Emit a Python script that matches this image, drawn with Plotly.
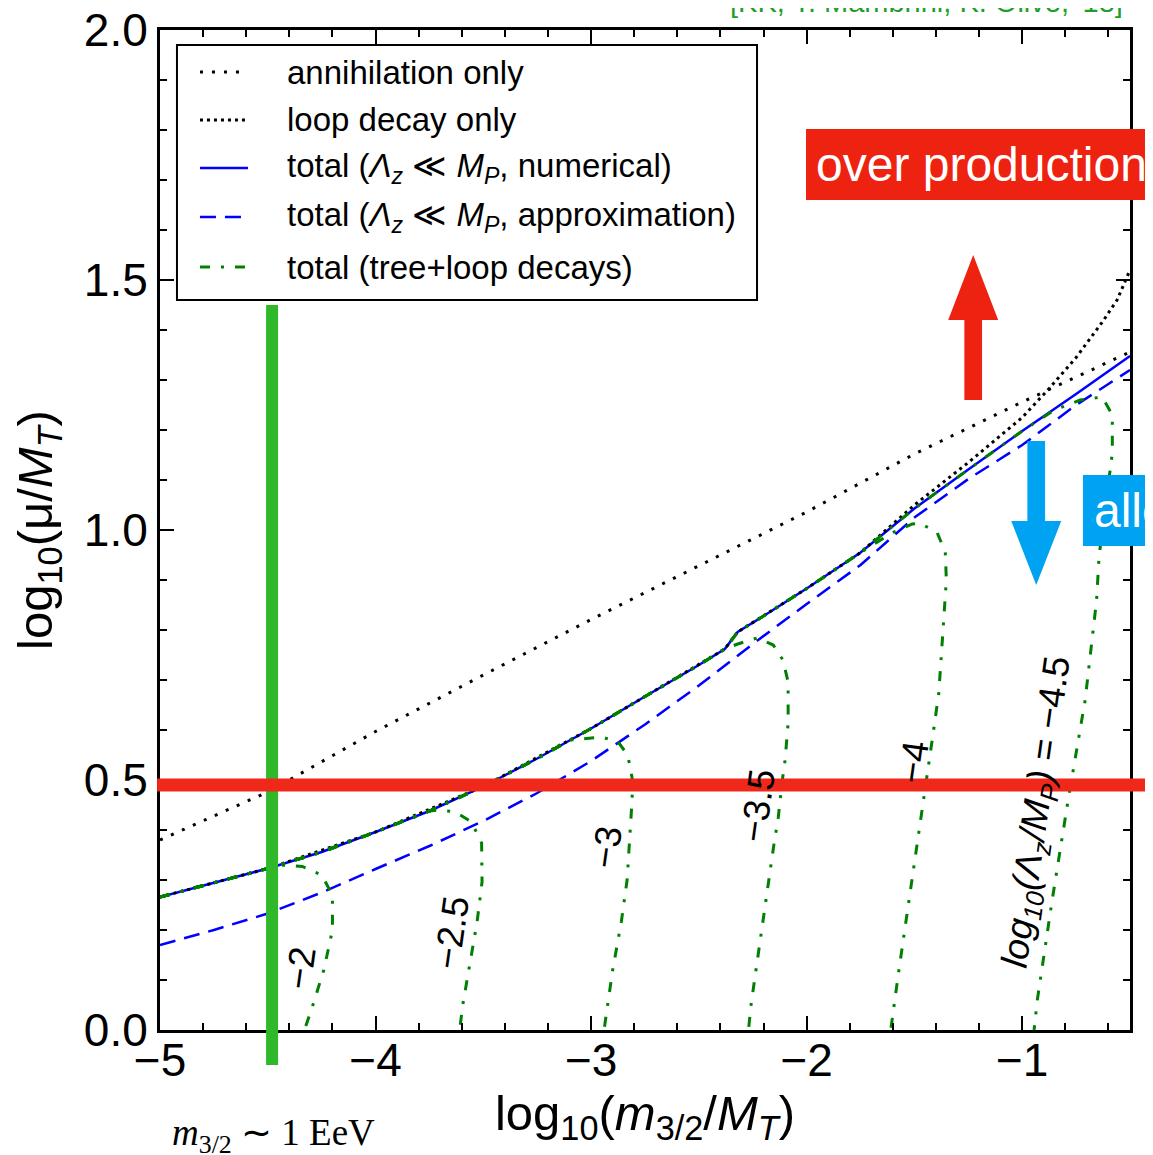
import plotly.graph_objects as go

# ---------------- data ----------------
x_total = [-5.0, -4.75, -4.5, -4.25, -4.0, -3.75, -3.5, -3.25, -3.0, -2.75, -2.5, -2.38, -2.32,
           -2.2, -2.0, -1.75, -1.5, -1.25, -1.0, -0.75, -0.5]
y_total = [0.266, 0.295, 0.323, 0.356, 0.396, 0.438, 0.487, 0.543, 0.603, 0.667, 0.730, 0.762, 0.796,
           0.828, 0.883, 0.955, 1.043, 1.121, 1.198, 1.272, 1.348]

x_approx = [-5.0, -4.75, -4.5, -4.25, -4.0, -3.75, -3.5, -3.25, -3.0, -2.75, -2.5, -2.25, -2.0,
            -1.75, -1.5, -1.25, -1.0, -0.75, -0.5]
y_approx = [0.170, 0.200, 0.233, 0.275, 0.322, 0.368, 0.418, 0.474, 0.538, 0.611, 0.689, 0.772, 0.852,
            0.930, 1.025, 1.102, 1.170, 1.250, 1.320]

x_ann = [-5.0, -4.5, -4.0, -3.5, -3.0, -2.5, -2.0, -1.5, -1.0, -0.5]
y_ann = [0.380, 0.476, 0.597, 0.710, 0.821, 0.928, 1.036, 1.152, 1.256, 1.356]

x_loop = [-5.0, -4.5, -4.0, -3.5, -3.0, -2.5, -2.38, -2.32, -2.0, -1.75, -1.5, -1.25, -1.0,
          -0.875, -0.75, -0.625, -0.56, -0.5]
y_loop = [0.266, 0.323, 0.396, 0.487, 0.603, 0.730, 0.762, 0.796, 0.883, 0.955, 1.050, 1.135, 1.225,
          1.283, 1.345, 1.418, 1.460, 1.520]

# tree+loop decay curves: label, last x on the common branch, departing tail
green_labels = ["−2", "−2.5", "−3", "−3.5", "−4", "−4.5"]
green_split = [-4.5, -3.75, -3.25, -2.38, -1.75, -1.0]
green_tail_x = [
    [-4.42, -4.34, -4.25, -4.20, -4.20, -4.24, -4.295, -4.33],
    [-3.70, -3.63, -3.555, -3.508, -3.506, -3.529, -3.561, -3.594, -3.61],
    [-3.10, -2.95, -2.875, -2.83, -2.808, -2.81, -2.833, -2.86, -2.90, -2.94],
    [-2.32, -2.23, -2.155, -2.11, -2.086, -2.086, -2.10, -2.114, -2.132, -2.151, -2.178, -2.206,
     -2.23, -2.257, -2.27],
    [-1.60, -1.51, -1.473, -1.394, -1.357, -1.352, -1.362, -1.387, -1.413, -1.44, -1.468, -1.494,
     -1.52, -1.547, -1.574, -1.61],
    [-0.85, -0.731, -0.629, -0.582, -0.582, -0.596, -0.643, -0.655, -0.708, -0.787, -0.861, -0.93, -0.945],
]
green_tail_y = [
    [0.330, 0.327, 0.310, 0.270, 0.200, 0.120, 0.044, 0.0],
    [0.440, 0.436, 0.416, 0.374, 0.296, 0.216, 0.136, 0.054, 0.0],
    [0.580, 0.586, 0.576, 0.550, 0.500, 0.460, 0.300, 0.216, 0.120, 0.0],
    [0.772, 0.784, 0.770, 0.740, 0.696, 0.614, 0.540, 0.496, 0.424, 0.374, 0.294, 0.214,
     0.134, 0.054, 0.0],
    [0.995, 1.012, 1.014, 0.994, 0.956, 0.900, 0.834, 0.674, 0.594, 0.514, 0.434, 0.354,
     0.274, 0.194, 0.114, 0.0],
    [1.240, 1.260, 1.266, 1.230, 1.154, 1.106, 0.950, 0.860, 0.660, 0.460, 0.260, 0.060, 0.0],
]
# label positions (data coords)
label_x = [-4.35, -3.65, -2.93, -2.23, -1.506, -0.926]
label_y = [0.124, 0.194, 0.366, 0.448, 0.536, 0.436]

x_ticks = [-5, -4, -3, -2, -1]
y_ticks = [0.0, 0.5, 1.0, 1.5, 2.0]

legend_names = [
    "annihilation only",
    "loop decay only",
    "total (<i>Λ<sub>z</sub></i> ≪ <i>M<sub>P</sub></i>, numerical)",
    "total (<i>Λ<sub>z</sub></i> ≪ <i>M<sub>P</sub></i>, approximation)",
    "total (tree+loop decays)",
]

# ---------------- styles ----------------
FONT = "Liberation Sans, Arial, Helvetica, sans-serif"
BLUE = "#0000ff"
GREEN = "#008000"
RED = "#ee2211"
LBLUE = "#00a2f2"
styles = [
    dict(color="black", width=3, dash="3px,9px"),
    dict(color="black", width=3, dash="3px,4px"),
    dict(color=BLUE, width=2.5, dash="solid"),
    dict(color=BLUE, width=2.5, dash="16px,9px"),
    dict(color=GREEN, width=3, dash="10px,11px,3px,11px"),
]

fig = go.Figure()

fig.add_trace(go.Scatter(x=x_total, y=y_total, mode="lines", name=legend_names[2], line=styles[2]))
fig.add_trace(go.Scatter(x=x_approx, y=y_approx, mode="lines", name=legend_names[3], line=styles[3]))
fig.add_trace(go.Scatter(x=x_ann, y=y_ann, mode="lines", name=legend_names[0], line=styles[0]))
fig.add_trace(go.Scatter(x=x_loop, y=y_loop, mode="lines", name=legend_names[1], line=styles[1]))

for i in range(len(green_labels)):
    gx = [x for x in x_total if x <= green_split[i]] + green_tail_x[i]
    gy = [y for x, y in zip(x_total, y_total) if x <= green_split[i]] + green_tail_y[i]
    fig.add_trace(go.Scatter(x=gx, y=gy, mode="lines", name=legend_names[4], line=styles[4]))

# rotated curve labels
for i, lab in enumerate(green_labels):
    txt = lab if i < len(green_labels) - 1 else \
        "<i>log<sub>10</sub>(Λ<sub>z</sub>/M<sub>P</sub>)</i> = " + lab
    fig.add_annotation(x=label_x[i], y=label_y[i], xref="x", yref="y", text=txt,
                       showarrow=False, textangle=-82,
                       font=dict(family=FONT, size=37, color="black"))

# highlighter strokes
fig.add_shape(type="line", xref="x", yref="paper", x0=-4.48, x1=-4.48, y0=-0.035, y1=0.725,
              line=dict(color="#2eb82a", width=12), layer="above")
fig.add_shape(type="line", xref="paper", yref="y", x0=-0.003, x1=1.03, y0=0.49, y1=0.49,
              line=dict(color="#f0281a", width=13), layer="above")

# arrows
cx, hw, sw = -1.2274, 0.116, 0.041
fig.add_shape(type="path", xref="x", yref="y", fillcolor=RED, line=dict(width=0),
              path=f"M{cx-sw},1.26 L{cx+sw},1.26 L{cx+sw},1.42 L{cx+hw},1.42 L{cx},1.55 "
                   f"L{cx-hw},1.42 L{cx-sw},1.42 Z")
cx2 = -0.935
fig.add_shape(type="path", xref="x", yref="y", fillcolor=LBLUE, line=dict(width=0),
              path=f"M{cx2-sw},1.178 L{cx2+sw},1.178 L{cx2+sw},1.018 L{cx2+hw},1.018 L{cx2},0.89 "
                   f"L{cx2-hw},1.018 L{cx2-sw},1.018 Z")

# boxes with text
fig.add_shape(type="rect", xref="paper", yref="paper", x0=0.666, x1=1.04, y0=0.830, y1=0.901,
              fillcolor=RED, line=dict(width=0), layer="above")
fig.add_annotation(xref="paper", yref="paper", x=0.674, y=0.866, xanchor="left", yanchor="middle",
                   text="over production", showarrow=False,
                   font=dict(family=FONT, size=48, color="white"))
fig.add_shape(type="rect", xref="paper", yref="paper", x0=0.9515, x1=1.04, y0=0.484, y1=0.555,
              fillcolor=LBLUE, line=dict(width=0), layer="above")
fig.add_annotation(xref="paper", yref="paper", x=0.9605, y=0.52, xanchor="left", yanchor="middle",
                   text="allowed", showarrow=False,
                   font=dict(family=FONT, size=48, color="white"))

# legend (drawn by hand to match the reference layout)
fig.add_shape(type="rect", xref="paper", yref="paper", x0=0.0175, x1=0.6155, y0=0.730, y1=0.985,
              fillcolor="white", line=dict(color="black", width=2), layer="above")
leg_y = [0.958, 0.910, 0.862, 0.813, 0.763]
for i, name in enumerate(legend_names):
    fig.add_shape(type="line", xref="paper", yref="paper", x0=0.0412, x1=0.0907,
                  y0=leg_y[i], y1=leg_y[i], line=styles[i], layer="above")
    fig.add_annotation(xref="paper", yref="paper", x=0.1289, y=leg_y[i], xanchor="left",
                       yanchor="middle", text=name, showarrow=False,
                       font=dict(family=FONT, size=33, color="black"))

# reference text at top (cut off) and bottom-left note
fig.add_annotation(xref="paper", yref="paper", x=0.995, y=1.028, xanchor="right", yanchor="middle",
                   text="[KK, Y. Mambrini, K. Olive, '18]", showarrow=False,
                   font=dict(family=FONT, size=29, color="#1e9e2a"))
fig.add_annotation(xref="paper", yref="paper", x=0.0103, y=-0.105, xanchor="left", yanchor="middle",
                   text="<i>m</i><sub>3/2</sub> ∼ 1 EeV", showarrow=False,
                   font=dict(family="Liberation Serif, Times New Roman, serif", size=37, color="black"))

axis_common = dict(showgrid=False, zeroline=False, showline=True, linecolor="black", linewidth=3,
                   mirror="ticks", ticks="inside", ticklen=14, tickwidth=2, tickcolor="black",
                   automargin=False, ticklabeloverflow="allow",
                   tickfont=dict(family=FONT, size=46, color="black"))

fig.update_xaxes(range=[-5, -0.5], tickvals=x_ticks, ticktext=[f"−{abs(v)}" for v in x_ticks],
                 ticklabelstandoff=-12,
                 minor=dict(ticks="inside", ticklen=7, tickwidth=1.5, tickcolor="black", dtick=0.2,
                            tick0=-5),
                 title=dict(text="log<sub>10</sub>(<i>m</i><sub>3/2</sub>/<i>M<sub>T</sub></i>)",
                            font=dict(family=FONT, size=49, color="black"), standoff=1),
                 **axis_common)
fig.update_yaxes(range=[0, 2], tickvals=y_ticks, ticktext=[f"{v:.1f}" for v in y_ticks],
                 minor=dict(ticks="inside", ticklen=7, tickwidth=1.5, tickcolor="black", dtick=0.1,
                            tick0=0),
                 title=dict(text="log<sub>10</sub>(μ/<i>M<sub>T</sub></i>)",
                            font=dict(family=FONT, size=49, color="black"), standoff=38),
                 **axis_common)

# the page adds an 8px body margin, so the figure is 8px smaller and shifted margins
fig.update_layout(
    width=1145, height=1147,
    margin=dict(l=152, r=23, t=22, b=125),
    plot_bgcolor="white", paper_bgcolor="white",
    showlegend=False,
)

fig.write_html("out.html")
